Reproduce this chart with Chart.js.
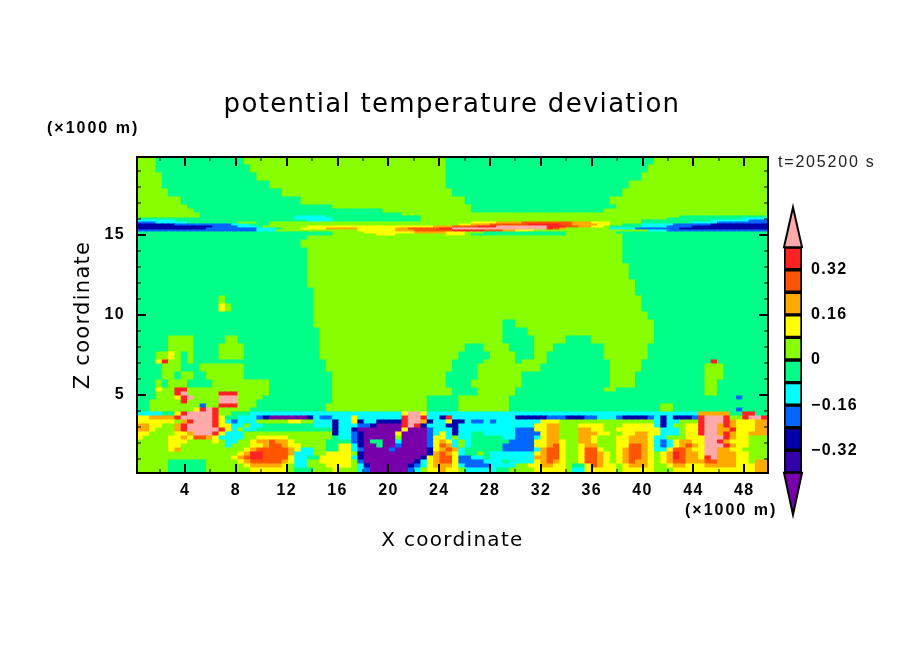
<!DOCTYPE html>
<html>
<head>
<meta charset="utf-8">
<style>
  html, body { margin: 0; padding: 0; background: #fff; }
  #wrap { position: relative; width: 904px; height: 654px; overflow: hidden; }
  #main { position: absolute; left: 0; top: 0; }
  #bar { position: absolute; left: 770px; top: 192px; }
</style>
<script src="https://cdn.jsdelivr.net/npm/chart.js@4/dist/chart.umd.min.js"></script>
</head>
<body>
<div id="wrap">
  <canvas id="main" width="904" height="654" style="width:904px;height:654px"></canvas>
  <canvas id="bar" width="130" height="338" style="width:130px;height:338px"></canvas>
</div>
<script>
// a..l = colour classes from below -0.40 up to above 0.40
const levelKeys = "abcdefghijkl";
const levelColors = ["#7700aa", "#3300aa", "#0000aa", "#0066ff", "#00ffff", "#00ff88",
  "#88ff00", "#ffff00", "#ffaa00", "#ff5500", "#ff2222", "#ffaaaa"];
const levelBounds = [-0.4, -0.32, -0.24, -0.16, -0.08, 0, 0.08, 0.16, 0.24, 0.32, 0.4];

const xTicks = [4, 8, 12, 16, 20, 24, 28, 32, 36, 40, 44, 48];
const xMinorTicks = [2, 6, 10, 14, 18, 22, 26, 30, 34, 38, 42, 46];
const zTicks = [5, 10, 15];
const zMinorTicks = [1, 2, 3, 4, 6, 7, 8, 9, 11, 12, 13, 14, 16, 17, 18, 19];
const barTicks = [0.32, 0.16, 0, -0.16, -0.32];

const xMin = 0.22;
const xMax = 49.87;
const colCount = 100;

// km, top to bottom, one more entry than rows
const rowEdges = [19.875, 19.375, 18.875, 18.375, 17.875, 17.375, 16.875, 16.625, 16.375, 16.1875,
  16.0625, 15.9375, 15.8125, 15.6875, 15.5625, 15.4375, 15.3125, 15.1875, 15.0625, 14.9375, 14.6875,
  14.1875, 13.6875, 13.1875, 12.6875, 12.1875, 11.6875, 11.1875, 10.6875, 10.1875, 9.6875, 9.1875,
  8.6875, 8.1875, 7.6875, 7.1875, 6.9375, 6.4375, 5.9375, 5.4375, 5.1875, 4.9375, 4.6875, 4.4375,
  4.1875, 3.9375, 3.6875, 3.4375, 3.1875, 2.9375, 2.6875, 2.4375, 2.1875, 1.9375, 1.6875, 1.4375,
  1.1875, 0.9375, 0.6875, 0.4375, 0];

// run lengths per row, key + number of columns
const rows = [
  "g3f14g32f33g18",
  "g3f15g31f32g19",
  "g4f15g30f31g20",
  "g4f17g28f29g22",
  "g5f18g27f27g23",
  "g7f19g26f23g25",
  "g8f23g22f23g24",
  "g9f30g14f21g26",
  "g10f32g58",
  "g10f15e5f15g41f14",
  "f25e6f14g39f12e4",
  "e6f21e4f14g35f11e6d3",
  "d3e5f8g3f2g32h4i4j8i3h3g5f8e4d8",
  "c6d9e3f3g30h2i3j6k5j2i4h2g2f3e5d6c9",
  "c12d4e3f1g7h20i3j4k3l8k3j2i2h2g1f5e4d4c12",
  "c11d8e3f1g3h4i5h6i2j5k2l15k1j1i1g7e4d7c14",
  "d19e3g13h6i3j6k5j3i2h3g18e3d16",
  "f31g5h8i5h3g3f13g8f24",
  "f31g7h3g8h3g1f15g9f23",
  "f27g50f23",
  "f26g51f23",
  "f27g50f23",
  "f27g50f23",
  "f27g51f22",
  "f27g51f22",
  "f27g52f21",
  "f28g51f21",
  "f13g1f14g52f20",
  "f13h1g1f13g52f20",
  "f28g53f19",
  "f28g30f2g22f18",
  "f29g29f4g20f18",
  "f5g4f5g2f13g29f5g5f4g10f18",
  "f5g4f4g4f12g23f3g4f4g3f8g7f19",
  "f3g2h1g1f1g1f4g4f12g22f5g4f3g2f9g7f19",
  "f3h1k1g2f1g1f21g20f5g5f1g4f10g5f11k1f8",
  "f4g3f3g7f13g20f4g10f11g5f10g3f7",
  "f4g2f1g2f2g6f14g18f5g7f14g4f11g3f7",
  "f3g1f1g3f4g9f10g18f4g8f14g4f11g2f8",
  "f3h1g2k2g13f10g19f4g6f14g2f14g2f8",
  "f3g3k1l1g5k3g5f10g19f4g6f30g2f8",
  "f3g3h1k1l1g4l3g4f11g15f5g8f36d1f4",
  "f2g5k1g5l3g3f12g15f5g8f41",
  "f2g8d1g2k3g3f11g16f5g8f24g2f15",
  "f2g7h1k1l1k1g5f12g16f5g8f24g2f10d1f4",
  "e4f2h1k1l4k1g2f3e24h1l2h1e43i5f2k2f2",
  "h2i4k1l5k1h1f2e3d1c1a6c1e1d2e1e2h1e7k1l2k1e2c1k1e10c5d3c3d2e3d1c4d1e1c1e1c3d1k1l3k1g2k1l2k1",
  "h6g1i1k1l3k1h1e1d1e3g5h2g2e3c1e1e1h1c1e2c4k1l2i1c1e2h1c1c1e1d2e1d1e7h3g9g6e1c1e2g3k1l3k1i1h3i2",
  "i2h2g2i1k1l4k1h2e2g1e2f8e3c1e2e1d2c1a4k1l1k1c1e3c2e12h2i2g3h4g3h5e1c1e1g2h2k1l2i1k1i1h3i2",
  "i2h1g3i1k1l5k1h1e1g1e2f12c1e2c1a7h1a3d1e3c1e9d3h2i2g3i2h2g2h7e3g1h2k1l2i2k1h3i2",
  "h2g4h2i1l3k1h1e3g14c1e2d1c1a5h1a4d1e1h1e1c1e2f2e5d4h1i2g3i3h2g2h2i2h2e3g1h2k1l2i1k1i1h2i3",
  "h1g4h2i1h1j2i1h1e4g2h5g7f1e2d1c1a5g1a4d1h2e1g1e2f5e2d3e1h1i2g3i2h1g3h2i3h1e2g3h3l3k1i1h2g3",
  "g5h3g4h1g1e2g2h1i2j1i2h1g5f4d1c1a1f2a2e1a4d1h1i1h1e1g1e1f6d4h2i2h1g2i2h1g3h2i3h1e1d1e1h1i2h2l2k1i1h3g3",
  "g5h2g7e1g3h2i1j2i1h2g4f2h2e1c1a2f1a2d1a4d1h1j1i1e1g1e1f5d5h2i1j1h1g2h1i2g3h2j2i1h1e1d1e1h1i1j1i1h1l3k1i1h2g3",
  "g5h1i1g7g3h1i1j5i1h1e2g2f2h2e1d1a4d1a5c1h1i1j1i1e1f6d5e1i1j2h1g2h1j2h1g2h1i1j2i1h1e2h1j2i1h2l2i2h2g4",
  "g16h1i1k2j4i1e3g2h2h2g1c1a10c1i1j1i1h1e1f2g1f1e7h1i1j2h1g2h1j2i1h1g1h1i1j2i1h1g1h1i1k1j1i2h1l2i3h2g3",
  "g15h1i1j1k2j4h1e2f2h3h2e1c1a9c1h1i1j2h1d2e2f1e7i2j2h1g2h1j2i1h1g1h1i1j2i1h1g1h1i1k1j1i2h1k1l1i3h2g3",
  "g5f6g5h1i1j5i1h1e2g2h3h2g1d1a8c1e1h1i1j2h1d4e3f1e4h1i1j1i1h1g2h1j2i1h1g1h1i1j1i2h1g1h1i1j2i3j2i3h2g1i2",
  "g5f6g6h1i5h1g1e2g3h2h2g1e1c1a6c1d1e1h1i3h1e1d4e4g2h2i2h1h1g1f2h1j1i1h2g1h1i3h1g2h1i2h3i5h3i2",
  "g5f6g7h6g1f3g3h1g3e1d1a6d1e1g1h2i1h2g1e5f2g4h4h1g1e2h5g1h5g3h13i2"
];

function expandRow(row) {
  const cols = [];
  for (const m of row.matchAll(/([a-l])(\d+)/g)) {
    for (let i = 0; i < Number(m[2]); i++) cols.push(m[1]);
  }
  while (cols.length < colCount) cols.push(cols[cols.length - 1]);
  return cols.slice(0, colCount);
}

function buildCellDatasets() {
  const dx = (xMax - xMin) / colCount;
  const centers = Array.from({ length: colCount }, (_, i) => xMin + (i + 0.5) * dx);
  const datasets = [];
  // stacked from the ground up, so the last row goes first
  for (let r = rows.length - 1; r >= 0; r--) {
    const cols = expandRow(rows[r]);
    const thickness = rowEdges[r] - rowEdges[r + 1];
    datasets.push({
      data: centers.map((x) => ({ x, y: thickness })),
      backgroundColor: cols.map((k) => levelColors[levelKeys.indexOf(k)]),
      borderWidth: 0,
      inflateAmount: 0.5,
      barPercentage: 1,
      categoryPercentage: 1,
    });
  }
  return datasets;
}

const labelFont = "'Liberation Sans', Arial, sans-serif";
const wideFont = "'DejaVu Sans', sans-serif";

// 文字間隔は canvas の状態なので毎回入れ直す
const spacing = {
  id: "spacing",
  beforeUpdate(chart) { chart.ctx.letterSpacing = "1.3px"; },
  beforeDraw(chart) { chart.ctx.letterSpacing = "1.3px"; },
};

// 枠と内向きの目盛り
const frameTicks = {
  id: "frameTicks",
  afterDraw(chart) {
    const { ctx, chartArea: a, scales } = chart;
    ctx.save();
    ctx.strokeStyle = "#000";
    const tick = (x1, y1, x2, y2, w) => {
      ctx.lineWidth = w;
      ctx.beginPath();
      ctx.moveTo(x1, y1);
      ctx.lineTo(x2, y2);
      ctx.stroke();
    };
    const xMarks = (vals, len, w) => vals.forEach((v) => {
      const p = Math.round(scales.x.getPixelForValue(v));
      tick(p, a.bottom, p, a.bottom - len, w);
      tick(p, a.top, p, a.top + len, w);
    });
    const zMarks = (vals, len, w) => vals.forEach((v) => {
      const p = Math.round(scales.y.getPixelForValue(v));
      tick(a.left, p, a.left + len, p, w);
      tick(a.right, p, a.right - len, p, w);
    });
    xMarks(xTicks, 9, 2);
    xMarks(xMinorTicks, 4, 1);
    zMarks(zTicks, 9, 2);
    zMarks(zMinorTicks, 4, 1);
    ctx.lineWidth = 2;
    ctx.strokeRect(a.left, a.top, a.right - a.left, a.bottom - a.top);

    ctx.fillStyle = "#000";
    ctx.textBaseline = "middle";
    ctx.textAlign = "left";
    ctx.font = `bold 16px ${labelFont}`;
    ctx.letterSpacing = "2px";
    ctx.fillText("(×1000 m)", 47, 129);
    ctx.fillText("(×1000 m)", 685, 511);
    ctx.fillStyle = "#222";
    ctx.font = `16px ${labelFont}`;
    ctx.letterSpacing = "1.8px";
    ctx.fillText("t=205200 s", 778, 163);
    ctx.restore();
  },
};

new Chart(document.getElementById("main").getContext("2d"), {
  type: "bar",
  data: { datasets: buildCellDatasets() },
  plugins: [spacing, frameTicks],
  options: {
    responsive: false,
    animation: false,
    events: [],
    plugins: {
      legend: { display: false },
      tooltip: { enabled: false },
      title: {
        display: true,
        text: "potential temperature deviation",
        color: "#000",
        font: { family: wideFont, size: 26, weight: "normal", lineHeight: 1.2 },
        padding: { top: 90, bottom: 35.8 },
      },
    },
    scales: {
      x: {
        type: "linear",
        stacked: true,
        min: xMin,
        max: xMax,
        offset: false,
        grid: { display: false, drawTicks: false },
        border: { display: false },
        afterBuildTicks: (s) => { s.ticks = xTicks.map((value) => ({ value })); },
        afterFit: (s) => { s.height = 181; },
        ticks: {
          color: "#000",
          padding: 8,
          maxRotation: 0,
          autoSkip: false,
          font: { family: labelFont, size: 16, weight: "bold" },
        },
        title: {
          display: true,
          text: "X coordinate",
          color: "#000",
          font: { family: wideFont, size: 20, weight: "normal", lineHeight: 1.2 },
          padding: { top: 0, bottom: 101 },
        },
      },
      y: {
        stacked: true,
        min: 0.125,
        max: 19.875,
        grid: { display: false, drawTicks: false },
        border: { display: false },
        afterBuildTicks: (s) => { s.ticks = zTicks.map((value) => ({ value })); },
        afterFit: (s) => { s.width = 137; },
        ticks: {
          color: "#000",
          padding: 12,
          autoSkip: false,
          font: { family: labelFont, size: 16, weight: "bold" },
        },
        title: {
          display: true,
          text: "Z coordinate",
          color: "#000",
          font: { family: wideFont, size: 21, weight: "normal", lineHeight: 1.2 },
          padding: { top: 71, bottom: 0 },
        },
      },
      // 右の余白。タイトルをキャンバス中央に置くための空の軸
      gutter: {
        type: "linear",
        position: "right",
        ticks: { display: false },
        grid: { display: false, drawTicks: false },
        border: { display: false },
        afterFit: (s) => { s.width = 136; },
      },
    },
  },
});

// カラーバー: 両端の三角は色クラス a と l
const barEnds = {
  id: "barEnds",
  afterDatasetsDraw(chart) {
    const { ctx, chartArea: a, scales } = chart;
    const mid = (a.left + a.right) / 2;
    const half = (a.right - a.left) / 2;
    const end = (base, tip, color) => {
      const yBase = scales.y.getPixelForValue(base);
      const yTip = scales.y.getPixelForValue(tip);
      const yKnee = yBase + (yTip - yBase) * 0.45;
      ctx.beginPath();
      ctx.moveTo(mid - half, yBase);
      ctx.lineTo(mid - half * 0.55, yKnee);
      ctx.lineTo(mid, yTip);
      ctx.lineTo(mid + half * 0.55, yKnee);
      ctx.lineTo(mid + half, yBase);
      ctx.closePath();
      ctx.fillStyle = color;
      ctx.fill();
      ctx.stroke();
    };
    ctx.save();
    ctx.strokeStyle = "#000";
    ctx.lineWidth = 2;
    end(0.4, 0.5416, levelColors[11]);
    end(-0.4, -0.5487, levelColors[0]);
    ctx.restore();
  },
};

const bandData = levelBounds.slice(0, -1).map((low, i) => ({
  label: `${low}`,
  data: [[low, levelBounds[i + 1]]],
  backgroundColor: levelColors[i + 1],
  borderColor: "#000",
  borderWidth: 2,
  borderSkipped: false,
  barPercentage: 1,
  categoryPercentage: 1,
  grouped: false,
}));

new Chart(document.getElementById("bar").getContext("2d"), {
  type: "bar",
  data: { labels: [""], datasets: bandData },
  plugins: [spacing, barEnds],
  options: {
    responsive: false,
    animation: false,
    events: [],
    layout: { padding: { left: 14, right: 0, top: 10, bottom: 12 } },
    plugins: { legend: { display: false }, tooltip: { enabled: false } },
    scales: {
      x: { display: false },
      y: {
        position: "right",
        min: -0.56,
        max: 0.56,
        grid: { display: false, drawTicks: false },
        border: { display: false },
        afterBuildTicks: (s) => { s.ticks = barTicks.map((value) => ({ value })); },
        afterFit: (s) => { s.width = 98; s.paddingTop = 0; s.paddingBottom = 0; },
        ticks: {
          color: "#000",
          padding: 9,
          autoSkip: false,
          font: { family: labelFont, size: 16, weight: "bold" },
          callback: (v) => (v === 0 ? "0" : (v < 0 ? "\u2212" : "") + Math.abs(v).toFixed(2)),
        },
      },
    },
  },
});
</script>
</body>
</html>
